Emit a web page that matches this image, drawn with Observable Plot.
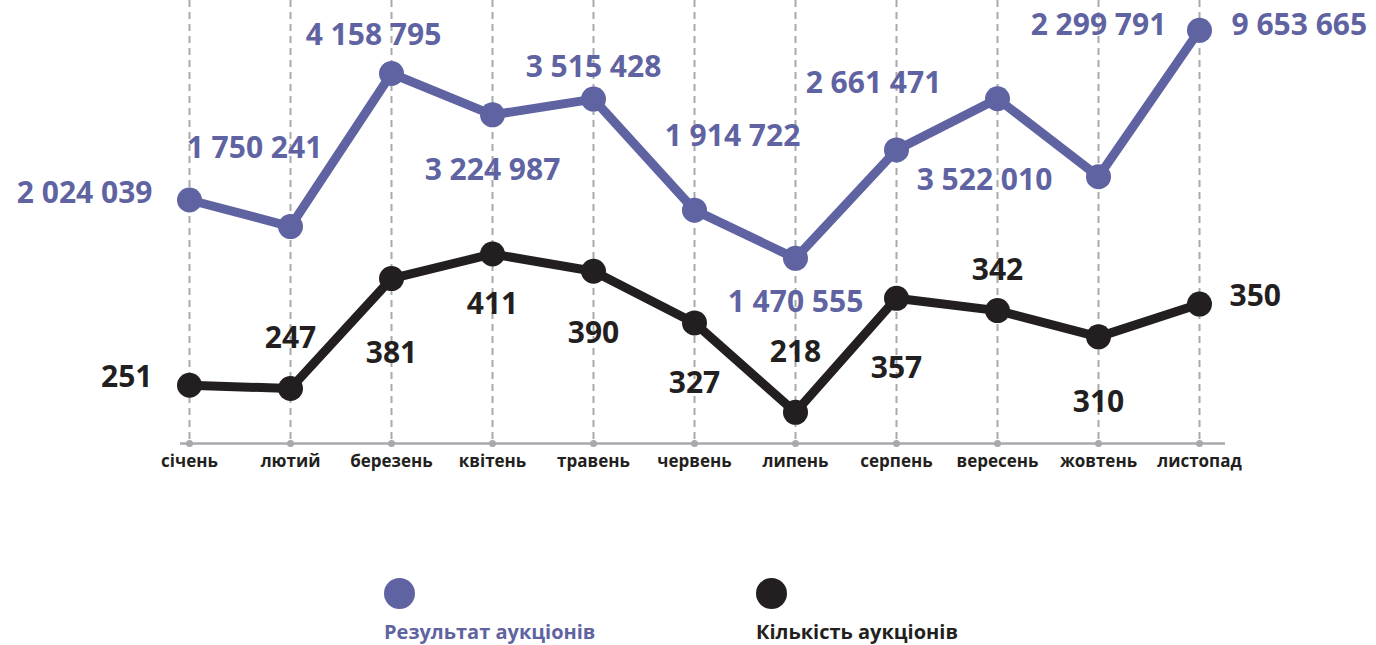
<!DOCTYPE html>
<html>
<head>
<meta charset="utf-8">
<script src="https://cdn.jsdelivr.net/npm/d3@7"></script>
<script src="https://cdn.jsdelivr.net/npm/@observablehq/plot@0.6"></script>
<style>
  body { margin: 0; background: #fff; }
  #wrap { position: relative; width: 1376px; height: 645px; overflow: hidden; font-family: "Open Sans", sans-serif; }
  #wrap svg { position: absolute; left: 0; top: 0; }
  #wrap svg g[aria-label="x-axis tick label"] text { font-weight: 700; }
  .leg-dot { position: absolute; width: 31px; height: 31px; border-radius: 50%; }
  .leg-text { position: absolute; font-weight: 700; font-size: 20px; line-height: 20px; white-space: nowrap; }
</style>
</head>
<body>
<div id="wrap"></div>
<script>
// ---- data ----
const months = ["січень", "лютий", "березень", "квітень", "травень", "червень", "липень", "серпень", "вересень", "жовтень", "листопад"];
const auctionResults = [2024039, 1750241, 4158795, 3224987, 3515428, 1914722, 1470555, 2661471, 3522010, 2299791, 9653665];
const auctionCounts = [251, 247, 381, 411, 390, 327, 218, 357, 342, 310, 350];
const seriesNames = ["Результат аукціонів", "Кількість аукціонів"];

// ---- label placement (annotation layout, px offsets from each point) ----
const resultLabelPlacement = [
  {dx: -37, dy: -7, anchor: "end"},
  {dx: -36, dy: -78, anchor: "middle"},
  {dx: -18, dy: -38, anchor: "middle"},
  {dx: 0, dy: 56, anchor: "middle"},
  {dx: 0, dy: -32, anchor: "middle"},
  {dx: 38, dy: -74, anchor: "middle"},
  {dx: 0, dy: 44, anchor: "middle"},
  {dx: -23, dy: -67, anchor: "middle"},
  {dx: -13, dy: 82, anchor: "middle"},
  {dx: 0, dy: -151, anchor: "middle"},
  {dx: 32, dy: -5, anchor: "start"}
];
const countLabelPlacement = [
  {dx: -37, dy: -8, anchor: "end"},
  {dx: 0, dy: -50, anchor: "middle"},
  {dx: 0, dy: 75, anchor: "middle"},
  {dx: 0, dy: 50, anchor: "middle"},
  {dx: 0, dy: 62, anchor: "middle"},
  {dx: 0, dy: 60, anchor: "middle"},
  {dx: 0, dy: -60, anchor: "middle"},
  {dx: 0, dy: 70, anchor: "middle"},
  {dx: 0, dy: -40, anchor: "middle"},
  {dx: 0, dy: 66, anchor: "middle"},
  {dx: 30, dy: -8, anchor: "start"}
];

const PURPLE = "#5f63a2";
const BLACK = "#231f20";
const GRID = "#a7a9ac";
const FONT = "'Open Sans', sans-serif";

const fmt = d3.formatLocale({decimal: ",", thousands: " ", grouping: [3], currency: ["", ""]}).format(",d");

const resultData = months.map((m, i) => ({month: m, value: auctionResults[i]}));
const countData = months.map((m, i) => ({month: m, value: auctionCounts[i]}));

const W = 1376, H = 483, MB = 40;
const common = {
  width: W, height: H,
  marginTop: 0, marginBottom: MB, marginLeft: 187, marginRight: 175,
  style: {fontFamily: FONT, color: BLACK, background: "transparent", overflow: "visible"}
};

function labels(data, placement, color) {
  return data.map((d, i) => Plot.text([d], {
    x: "month", y: "value", text: r => fmt(r.value),
    dx: placement[i].dx, dy: placement[i].dy, textAnchor: placement[i].anchor,
    fill: color, fontSize: 30, fontWeight: 700
  }));
}

const countDomainMin = 180;
const back = Plot.plot({
  ...common,
  x: {type: "point", domain: months, padding: 0, label: null, axis: null},
  y: {domain: [countDomainMin, 720], axis: null},
  marks: [
    Plot.ruleX(months, {stroke: GRID, strokeWidth: 2, strokeDasharray: "7,5"}),
    Plot.ruleY([countDomainMin], {stroke: GRID, strokeWidth: 2.5, insetLeft: -7, insetRight: -24}),
    Plot.dot(months, {x: d => d, frameAnchor: "bottom", r: 3.5, fill: GRID}),
    Plot.axisX({tickSize: 0, tickPadding: 11, fontSize: 17, fontWeight: 700, label: null}),
    Plot.line(countData, {x: "month", y: "value", stroke: BLACK, strokeWidth: 9, strokeLinejoin: "round"}),
    Plot.dot(countData, {x: "month", y: "value", r: 12.5, fill: BLACK}),
    ...labels(countData, countLabelPlacement, BLACK)
  ]
});

const plotBottom = H - MB;
const front = Plot.plot({
  ...common,
  x: {type: "point", domain: months, padding: 0, axis: null},
  y: {type: "log", domain: [5e5, 4e6, 1e7], range: [plotBottom + 12, 75, 28], axis: null},
  marks: [
    Plot.line(resultData, {x: "month", y: "value", stroke: PURPLE, strokeWidth: 9, strokeLinejoin: "round"}),
    Plot.dot(resultData, {x: "month", y: "value", r: 12.5, fill: PURPLE}),
    ...labels(resultData, resultLabelPlacement, PURPLE)
  ]
});

const wrap = document.getElementById("wrap");
wrap.appendChild(back);
wrap.appendChild(front);

// ---- legend (below the chart) ----
const legendItems = [
  {name: seriesNames[0], color: PURPLE, left: 384},
  {name: seriesNames[1], color: BLACK, left: 756}
];
legendItems.forEach(item => {
  const dot = document.createElement("div");
  dot.className = "leg-dot";
  dot.style.background = item.color;
  dot.style.left = item.left + "px";
  dot.style.top = "578px";
  wrap.appendChild(dot);
  const t = document.createElement("div");
  t.className = "leg-text";
  t.style.color = item.color;
  t.style.left = item.left + "px";
  t.style.top = "622px";
  t.textContent = item.name;
  wrap.appendChild(t);
});
</script>
</body>
</html>
